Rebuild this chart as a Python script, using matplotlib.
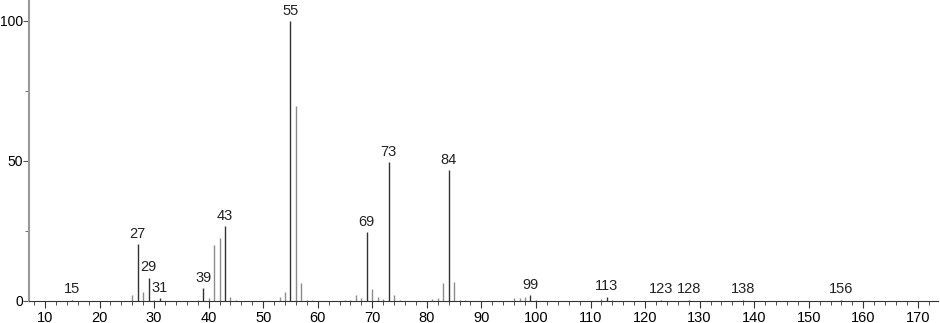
import matplotlib
matplotlib.use('Agg')
import matplotlib.pyplot as plt
from matplotlib.ticker import MultipleLocator

plt.rcParams['font.family'] = ['Liberation Sans', 'DejaVu Sans']

# m/z values and relative intensities
mz = [15, 26, 27, 28, 29, 30, 31, 38, 39, 40, 41, 42, 43, 44, 45,
      53, 54, 55, 56, 57, 58, 59, 65, 66, 67, 68, 69, 70, 71, 72, 73, 74, 75,
      81, 82, 83, 84, 85, 86, 87, 96, 97, 98, 99, 100, 112, 113, 114,
      123, 128, 138, 156]
intensity = [0.5, 2.1, 20.2, 3.3, 8.3, 0.5, 1.0, 0.5, 4.6, 1.0, 19.9, 22.5, 26.8, 1.3, 0.3,
             1.5, 3.3, 100, 69.6, 6.5, 0.5, 0.3, 0.5, 0.5, 2.1, 1.2, 24.5, 4.4, 1.3, 0.7, 49.5, 2.2, 0.3,
             0.8, 1.2, 6.3, 46.7, 6.9, 0.5, 0.4, 1.0, 1.2, 1.3, 2.1, 0.5, 0.8, 1.5, 0.4,
             0.5, 0.5, 0.5, 0.5]
labeled = [15, 27, 29, 31, 39, 43, 55, 69, 73, 84, 99, 113, 123, 128, 138, 156]

fig = plt.figure(figsize=(9.4, 3.23), dpi=100)
ax = fig.add_axes([29 / 940, 22 / 323, 909 / 940, 301 / 323])

for m, h in zip(mz, intensity):
    color = '#333333' if m in labeled else '#8c8c8c'
    ax.vlines(m, 0, h, color=color, linewidth=1.0)
    if m in labeled:
        ax.text(m, h + 1.2, str(m), ha='center', va='bottom', fontsize=10.5, color='#222222')

ax.set_xlim(7.07, 173.7)
ax.set_ylim(0, 107.5)
ax.xaxis.set_major_locator(MultipleLocator(10))
ax.xaxis.set_minor_locator(MultipleLocator(2))
ax.yaxis.set_major_locator(MultipleLocator(50))
ax.yaxis.set_minor_locator(MultipleLocator(25))
ax.tick_params(axis='x', which='major', length=5, labelsize=10.5, color='#333333', pad=2)
ax.tick_params(axis='x', which='minor', length=3, color='#333333')
ax.tick_params(axis='y', which='major', length=4, labelsize=10, color='#555555', pad=0.5)
ax.tick_params(axis='y', which='minor', length=3, color='#555555')
ax.spines['top'].set_visible(False)
ax.spines['right'].set_visible(False)
ax.spines['left'].set_color('#999999')
ax.spines['left'].set_linewidth(1.5)
ax.spines['bottom'].set_color('#333333')

plt.savefig('out.png', dpi=100)
